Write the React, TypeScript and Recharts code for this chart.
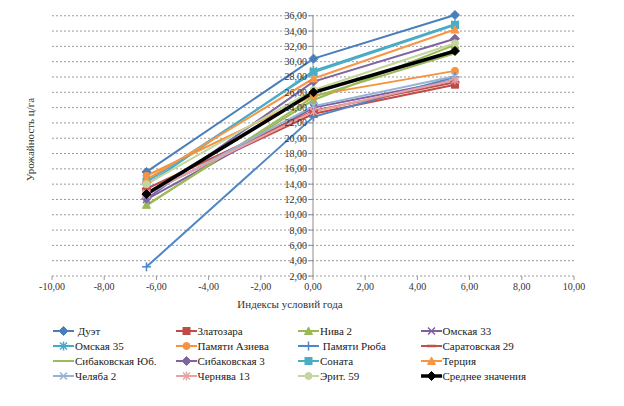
import React from 'react';
import {
  LineChart,
  Line,
  XAxis,
  YAxis,
  ReferenceLine,
  ReferenceDot,
  Label,
} from 'recharts';

// environmental index of each year (x position of the three points)
const yearIndex = [-6.38, 0.02, 5.44];

const xTicks = [-10, -8, -6, -4, -2, 0, 2, 4, 6, 8, 10];
const yTicks = [2, 4, 6, 8, 10, 12, 14, 16, 18, 20, 22, 24, 26, 28, 30, 32, 34, 36];

const seriesNames = [
  'Дуэт',
  'Златозара',
  'Нива 2',
  'Омская 33',
  'Омская 35',
  'Памяти Азиева',
  'Памяти Рюба',
  'Саратовская 29',
  'Сибаковская Юб.',
  'Сибаковская 3',
  'Соната',
  'Терция',
  'Челяба 2',
  'Чернява 13',
  'Эрит. 59',
  'Среднее значения',
];

// yield, c/ha, for each year
const duet = [15.6, 30.4, 36.1];
const zlatozara = [12.9, 23.2, 27.0];
const niva2 = [11.3, 25.0, 32.2];
const omsk33 = [12.0, 24.0, 27.6];
const omsk35 = [13.9, 28.8, 34.9];
const azieva = [15.1, 25.6, 28.8];
const ryuba = [3.2, 22.8, 28.0];
const saratov29 = [13.4, 23.6, 27.3];
const sibYub = [11.2, 25.4, 31.1];
const sib3 = [12.1, 27.4, 33.0];
const sonata = [14.3, 28.6, 34.8];
const tertsiya = [14.6, 27.8, 34.2];
const chelyaba2 = [12.6, 24.2, 28.1];
const chernyava13 = [12.8, 23.5, 27.6];
const erit59 = [14.0, 26.3, 32.4];
const average = [12.7, 26.0, 31.4];

const seriesValues = [
  duet, zlatozara, niva2, omsk33, omsk35, azieva, ryuba, saratov29,
  sibYub, sib3, sonata, tertsiya, chelyaba2, chernyava13, erit59, average,
];

type Shape = 'diamond' | 'square' | 'triangle' | 'x' | 'star' | 'circle' | 'plus' | 'dash' | 'none';

const styles: { color: string; shape: Shape; width: number }[] = [
  { color: '#4A7EBB', shape: 'diamond', width: 2 },
  { color: '#BE4B48', shape: 'square', width: 2 },
  { color: '#98B954', shape: 'triangle', width: 2 },
  { color: '#7D60A0', shape: 'x', width: 2 },
  { color: '#46AAC5', shape: 'star', width: 2 },
  { color: '#F69240', shape: 'circle', width: 2 },
  { color: '#4F86C6', shape: 'plus', width: 2 },
  { color: '#C0504D', shape: 'dash', width: 2 },
  { color: '#9BBB59', shape: 'none', width: 2 },
  { color: '#8064A2', shape: 'diamond', width: 2 },
  { color: '#4BACC6', shape: 'square', width: 2 },
  { color: '#F79646', shape: 'triangle', width: 2 },
  { color: '#95B3D7', shape: 'x', width: 2 },
  { color: '#E6A3A2', shape: 'star', width: 2 },
  { color: '#C3D69B', shape: 'circle', width: 2 },
  { color: '#000000', shape: 'diamond', width: 3.5 },
];

const data = yearIndex.map((x, i) => {
  const row: Record<string, number> = { x };
  seriesValues.forEach((vals, s) => {
    row['s' + s] = vals[i];
  });
  return row;
});

const fmt = (v: number) => v.toFixed(2).replace('.', ',');

const FONT = "'Liberation Serif', Tinos, 'DejaVu Serif', serif";

function Marker({ cx, cy, shape, color }: { cx: number; cy: number; shape: Shape; color: string }) {
  const r = 3.5;
  switch (shape) {
    case 'diamond':
      return (
        <polygon
          points={`${cx},${cy - r - 1} ${cx + r + 1},${cy} ${cx},${cy + r + 1} ${cx - r - 1},${cy}`}
          fill={color}
          stroke={color}
        />
      );
    case 'square':
      return <rect x={cx - r} y={cy - r} width={r * 2} height={r * 2} fill={color} stroke={color} />;
    case 'triangle':
      return (
        <polygon
          points={`${cx},${cy - r - 0.5} ${cx + r + 0.5},${cy + r} ${cx - r - 0.5},${cy + r}`}
          fill={color}
          stroke={color}
        />
      );
    case 'x':
      return (
        <g stroke={color} strokeWidth={1.5}>
          <line x1={cx - r} y1={cy - r} x2={cx + r} y2={cy + r} />
          <line x1={cx - r} y1={cy + r} x2={cx + r} y2={cy - r} />
        </g>
      );
    case 'star':
      return (
        <g stroke={color} strokeWidth={1.5}>
          <line x1={cx - r} y1={cy - r} x2={cx + r} y2={cy + r} />
          <line x1={cx - r} y1={cy + r} x2={cx + r} y2={cy - r} />
          <line x1={cx} y1={cy - r - 1} x2={cx} y2={cy + r + 1} />
        </g>
      );
    case 'circle':
      return <circle cx={cx} cy={cy} r={r} fill={color} stroke={color} />;
    case 'plus':
      return (
        <g stroke={color} strokeWidth={1.5}>
          <line x1={cx - r - 1} y1={cy} x2={cx + r + 1} y2={cy} />
          <line x1={cx} y1={cy - r - 1} x2={cx} y2={cy + r + 1} />
        </g>
      );
    case 'dash':
      return <line x1={cx - r - 1} y1={cy} x2={cx + r + 1} y2={cy} stroke={color} strokeWidth={2.5} />;
    default:
      return null;
  }
}

function LegendItem({ index }: { index: number }) {
  const st = styles[index];
  return (
    <div style={{ display: 'flex', alignItems: 'center', height: 15 }}>
      <svg width={21} height={12} style={{ flex: 'none' }}>
        <line x1={0} y1={6} x2={21} y2={6} stroke={st.color} strokeWidth={st.width} />
        <Marker cx={10.5} cy={6} shape={st.shape} color={st.color} />
      </svg>
      <span style={{ marginLeft: 1, whiteSpace: 'nowrap' }}>
        {index === 0 || index === 6 ? '\u00a0' : ''}
        {seriesNames[index]}
      </span>
    </div>
  );
}

export default function App() {
  return (
    <div
      style={{
        position: 'absolute',
        left: 0,
        top: 0,
        width: 624,
        height: 406,
        background: '#fff',
        fontFamily: FONT,
      }}
    >
      <LineChart
        width={624}
        height={406}
        data={data}
        margin={{ top: 15, right: 50, left: 0, bottom: 90 }}
        style={{ fontFamily: FONT }}
      >
        {yTicks.map((t) => (
          <ReferenceLine
            key={'g' + t}
            y={t}
            stroke="#9a9a9a"
            strokeDasharray="2 2"
          />
        ))}
        <XAxis
          dataKey="x"
          type="number"
          domain={[-10, 10]}
          ticks={xTicks}
          tickFormatter={fmt}
          axisLine={false}
          tickLine={{ stroke: '#9a9a9a' }}
          tickSize={4}
          tickMargin={3}
          height={40}
          tick={{ fontSize: 10, fill: '#333', fontFamily: FONT }}
        >
          <Label
            value="Индексы условий года"
            position="insideBottom"
            offset={8}
            dx={-23}
            style={{ fontSize: 11, fill: '#333', fontFamily: FONT }}
          />
        </XAxis>
        <YAxis
          type="number"
          domain={[2, 36]}
          ticks={yTicks}
          width={52}
          tick={false}
          axisLine={false}
          tickLine={false}
        >
          <Label
            value="Урожайность ц/га"
            angle={-90}
            position="center"
            dx={4}
            dy={-6}
            style={{ fontSize: 11, fill: '#333', fontFamily: FONT }}
          />
        </YAxis>
        <ReferenceLine x={0} stroke="#8c8c8c" strokeWidth={1} />
        {yTicks.map((t) => (
          <ReferenceDot
            key={'yt' + t}
            x={0}
            y={t}
            r={0}
            shape={(p: any) => (
              <g>
                <line x1={p.cx - 4} y1={p.cy} x2={p.cx} y2={p.cy} stroke="#8c8c8c" />
                <text
                  x={p.cx - 6}
                  y={p.cy}
                  dy="0.35em"
                  textAnchor="end"
                  fontSize={10}
                  fill="#333"
                  fontFamily={FONT}
                >
                  {fmt(t)}
                </text>
              </g>
            )}
          />
        ))}
        {seriesNames.map((name, s) => (
          <Line
            key={name}
            name={name}
            dataKey={'s' + s}
            type="linear"
            stroke={styles[s].color}
            strokeWidth={styles[s].width}
            isAnimationActive={false}
            dot={(p: any) => (
              <Marker
                key={'d' + s + '-' + p.index}
                cx={p.cx}
                cy={p.cy}
                shape={styles[s].shape}
                color={styles[s].color}
              />
            )}
            activeDot={false}
          />
        ))}
      </LineChart>
      <div
        style={{
          position: 'absolute',
          left: 53,
          top: 323,
          display: 'grid',
          gridTemplateColumns: 'repeat(4, 122.5px)',
          fontSize: 11,
          color: '#222',
        }}
      >
        {seriesNames.map((name, i) => (
          <LegendItem key={name} index={i} />
        ))}
      </div>
    </div>
  );
}
